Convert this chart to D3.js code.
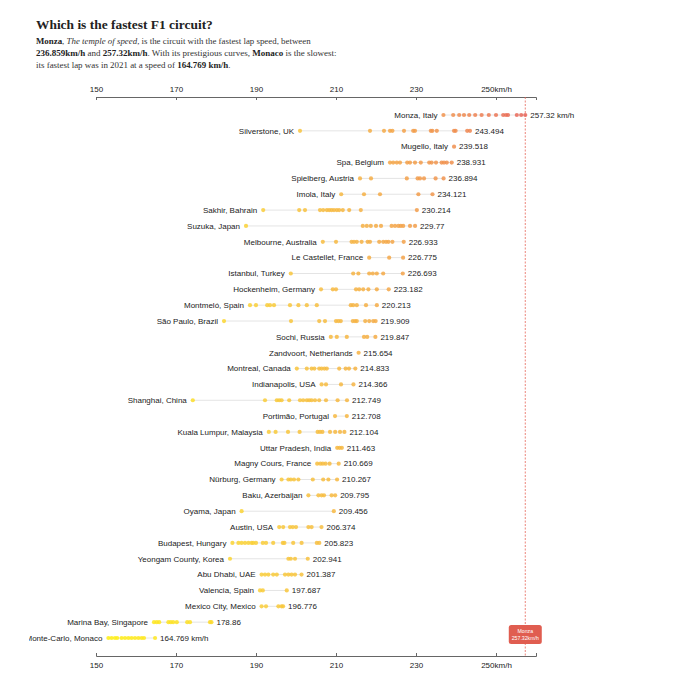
<!DOCTYPE html>
<html>
<head>
<meta charset="utf-8">
<script src="https://cdn.jsdelivr.net/npm/d3@7"></script>
<style>
  html, body { margin: 0; padding: 0; background: #fff; }
  svg { display: block; }
</style>
</head>
<body>
<script>
// ---- DATA ----
const circuits = [
  "Monza, Italy", "Silverstone, UK", "Mugello, Italy", "Spa, Belgium", "Spielberg, Austria",
  "Imola, Italy", "Sakhir, Bahrain", "Suzuka, Japan", "Melbourne, Australia", "Le Castellet, France",
  "Istanbul, Turkey", "Hockenheim, Germany", "Montmeló, Spain", "São Paulo, Brazil", "Sochi, Russia",
  "Zandvoort, Netherlands", "Montreal, Canada", "Indianapolis, USA", "Shanghai, China", "Portimão, Portugal",
  "Kuala Lumpur, Malaysia", "Uttar Pradesh, India", "Magny Cours, France", "Nürburg, Germany", "Baku, Azerbaijan",
  "Oyama, Japan", "Austin, USA", "Budapest, Hungary", "Yeongam County, Korea", "Abu Dhabi, UAE",
  "Valencia, Spain", "Mexico City, Mexico", "Marina Bay, Singapore", "Monte-Carlo, Monaco"
];

const lapSpeeds = [
  [236.859, 239.3, 240.8, 242.0, 243.3, 244.8, 246.4, 248.2, 250.0, 251.8, 252.5, 253.0, 255.2, 256.3, 257.32],
  [201.0, 218.5, 222.0, 223.5, 224.1, 227.0, 229.3, 229.75, 233.7, 234.1, 235.2, 239.5, 239.9, 242.8, 243.494],
  [239.518],
  [223.5, 224.3, 225.2, 226.0, 227.8, 228.5, 229.75, 231.2, 233.3, 233.9, 235.0, 236.4, 237.0, 237.7, 238.931],
  [216.0, 218.75, 227.7, 230.4, 231.0, 232.0, 234.9, 236.894],
  [211.3, 217.0, 221.0, 230.6, 234.121],
  [191.8, 200.8, 202.25, 206.0, 206.8, 207.7, 208.3, 208.9, 209.5, 210.2, 210.8, 211.7, 213.3, 216.2, 230.214],
  [187.5, 216.7, 217.7, 218.7, 220.0, 221.25, 223.9, 224.75, 225.6, 226.2, 226.8, 228.5, 229.77],
  [206.7, 210.0, 213.9, 214.5, 215.2, 216.4, 217.9, 218.5, 220.8, 221.8, 222.5, 223.1, 224.1, 226.933],
  [218.3, 223.3, 226.775],
  [198.7, 214.3, 215.6, 218.3, 219.2, 220.2, 221.8, 226.693],
  [206.25, 209.2, 210.0, 215.0, 215.8, 216.8, 218.1, 220.2, 223.182],
  [188.5, 190.0, 192.8, 193.5, 194.5, 198.5, 200.6, 202.7, 205.2, 213.7, 214.3, 215.2, 217.5, 220.213],
  [182.0, 198.75, 205.8, 207.25, 210.0, 210.6, 211.2, 214.2, 214.75, 215.2, 217.3, 218.3, 219.3, 219.909],
  [208.7, 210.2, 212.7, 217.0, 217.8, 219.847],
  [215.654],
  [200.2, 202.7, 203.9, 204.6, 205.8, 206.4, 207.1, 207.7, 210.8, 212.4, 213.25, 214.833],
  [206.4, 207.5, 211.25, 214.366],
  [174.2, 192.25, 195.2, 195.8, 196.4, 198.3, 201.0, 201.8, 202.7, 203.3, 203.9, 204.75, 205.8, 207.5, 210.4, 212.749],
  [209.75, 212.708],
  [193.2, 194.9, 198.0, 200.9, 205.4, 206.0, 206.6, 208.5, 209.8, 211.0, 212.104],
  [210.3, 210.9, 211.463],
  [205.3, 206.1, 206.7, 207.4, 208.4, 210.669],
  [196.4, 198.1, 198.7, 199.5, 200.6, 204.2, 206.8, 208.1, 210.267],
  [203.1, 205.6, 206.4, 207.0, 208.9, 209.795],
  [186.4, 209.456],
  [195.8, 196.8, 198.5, 199.2, 200.0, 203.1, 203.9, 206.374],
  [184.1, 185.6, 186.4, 187.25, 188.1, 188.9, 189.3, 190.0, 191.7, 192.5, 194.3, 196.7, 197.1, 199.3, 201.4, 205.2, 205.823],
  [183.5, 198.1, 198.7, 199.75, 202.941],
  [191.4, 192.25, 193.1, 194.3, 195.2, 197.25, 198.1, 198.9, 199.75, 201.387],
  [191.0, 191.7, 197.687],
  [191.4, 192.5, 195.6, 196.4, 196.776],
  [164.5, 165.2, 165.8, 168.1, 168.7, 169.3, 170.2, 172.8, 173.5, 178.5, 178.86],
  [153.1, 153.9, 154.75, 155.3, 156.4, 157.25, 158.1, 158.9, 159.75, 160.6, 161.4, 162.0, 164.769]
];

const tickValues = [150, 170, 190, 210, 230, 250];
const tickUnit = "km/h";
const fastest = { name: "Monza", speed: 257.32 };

// ---- LAYOUT ----
const W = 680, H = 680;
const svg = d3.select("body").append("svg").attr("width", W).attr("height", H);

const x = d3.scaleLinear().domain([150, 260]).range([96, 536]);
const y = d3.scalePoint().domain(circuits).range([115, 638]);
const axisTopY = 97, axisBottomY = 656;

const color = d3.scaleLinear()
  .domain([160, 190, 215, 240, 257])
  .range(["#ffea1a", "#f9cf38", "#f6b343", "#f08e4f", "#e8665a"]);

svg.append("defs").append("clipPath").attr("id", "chartClip")
  .append("rect").attr("x", 29).attr("y", 80).attr("width", W - 29).attr("height", H - 80);

// Title & subtitle
function fitText(sel, target) {
  const node = sel.node();
  const w = node.getComputedTextLength();
  const fs = parseFloat(sel.attr("font-size"));
  sel.attr("font-size", (fs * target / w).toFixed(2));
}

const title = svg.append("text").attr("x", 36).attr("y", 29)
  .attr("font-family", "Liberation Serif, serif").attr("font-weight", "bold")
  .attr("font-size", 14).attr("fill", "#222")
  .text("Which is the fastest F1 circuit?");
fitText(title, 177);

const sub = [
  [["Monza", "b"], [", ", ""], ["The temple of speed", "i"], [", is the circuit with the fastest lap speed, between", ""]],
  [["236.859km/h", "b"], [" and ", ""], ["257.32km/h", "b"], [". With its prestigious curves, ", ""], ["Monaco", "b"], [" is the slowest:", ""]],
  [["its fastest lap was in 2021 at a speed of ", ""], ["164.769 km/h", "b"], [".", ""]]
];
const subTargets = [275, 301, 195];
const subY = [44, 56, 68];
sub.forEach((line, i) => {
  const t = svg.append("text").attr("x", 36).attr("y", subY[i])
    .attr("font-family", "Liberation Serif, serif").attr("font-size", 9).attr("fill", "#333");
  line.forEach(([s, st]) => {
    const ts = t.append("tspan").text(s);
    if (st === "b") ts.attr("font-weight", "bold").attr("fill", "#222");
    if (st === "i") ts.attr("font-style", "italic");
  });
  fitText(t, subTargets[i]);
});

// Axes
const fmt = d => d === 250 ? d + tickUnit : d;
const gTop = svg.append("g").attr("transform", `translate(0,${axisTopY})`)
  .call(d3.axisTop(x).tickValues(tickValues).tickFormat(fmt).tickSize(-3).tickSizeOuter(-3).tickPadding(5));
const gBot = svg.append("g").attr("transform", `translate(0,${axisBottomY})`)
  .call(d3.axisBottom(x).tickValues(tickValues).tickFormat(fmt).tickSize(-3).tickSizeOuter(-3).tickPadding(5));
[gTop, gBot].forEach(g => {
  g.selectAll("text").attr("font-family", "Liberation Sans, Arial, sans-serif").attr("font-size", 8).attr("fill", "#222");
  g.selectAll("path, line").attr("stroke", "#666");
});
gBot.selectAll("text").attr("dy", "0.9em");

// Rows
const rows = svg.append("g").attr("clip-path", "url(#chartClip)");
circuits.forEach((name, i) => {
  const vals = lapSpeeds[i];
  const lo = d3.min(vals), hi = d3.max(vals);
  const yy = y(name);
  const g = rows.append("g");
  g.append("line").attr("x1", x(lo)).attr("x2", x(hi)).attr("y1", yy).attr("y2", yy)
    .attr("stroke", "#e4e4e4").attr("stroke-width", 1);
  g.selectAll("circle").data(vals).join("circle")
    .attr("cx", d => x(d)).attr("cy", yy).attr("r", 2.1)
    .attr("fill", d => color(d)).attr("fill-opacity", 0.85);
  g.append("text").attr("x", x(lo) - 6).attr("y", yy).attr("dy", "0.35em")
    .attr("text-anchor", "end")
    .attr("font-family", "Liberation Sans, Arial, sans-serif").attr("font-size", 8).attr("fill", "#222")
    .text(name);
  const suffix = (i === 0 || i === circuits.length - 1) ? " km/h" : "";
  g.append("text").attr("x", x(hi) + 5).attr("y", yy).attr("dy", "0.35em")
    .attr("font-family", "Liberation Sans, Arial, sans-serif").attr("font-size", 8).attr("fill", "#222")
    .text(hi + suffix);
});

// Fastest marker line
const fx = x(fastest.speed);
svg.append("line").attr("x1", fx).attr("x2", fx).attr("y1", axisTopY).attr("y2", axisBottomY)
  .attr("stroke", "#e8675a").attr("stroke-width", 1).attr("stroke-dasharray", "2,1.5").attr("opacity", 0.8);

const tip = svg.append("g").attr("transform", `translate(${fx},625)`);
tip.append("rect").attr("x", -16.5).attr("y", 0).attr("width", 33).attr("height", 19).attr("rx", 2.5)
  .attr("fill", "#e05d50");
tip.append("text").attr("x", 0).attr("y", 7.5).attr("text-anchor", "middle")
  .attr("font-family", "Liberation Sans, Arial, sans-serif").attr("font-size", 5.2).attr("fill", "#fff")
  .text(fastest.name);
tip.append("text").attr("x", 0).attr("y", 15).attr("text-anchor", "middle")
  .attr("font-family", "Liberation Sans, Arial, sans-serif").attr("font-size", 5.2).attr("fill", "#fff")
  .text(fastest.speed + "km/h");
</script>
</body>
</html>
